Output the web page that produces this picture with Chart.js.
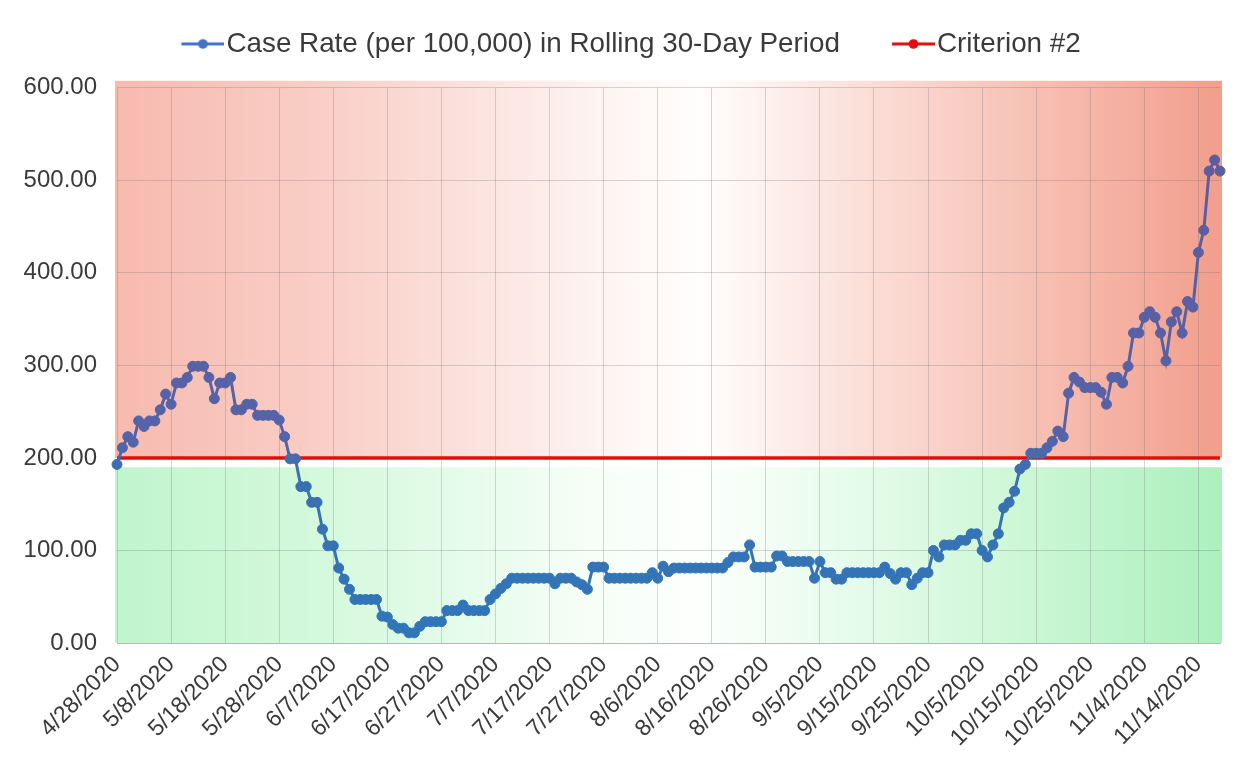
<!DOCTYPE html>
<html>
<head>
<meta charset="utf-8">
<title>Case Rate - Rolling 30-Day Period</title>
<script src="https://cdn.jsdelivr.net/npm/chart.js@4.4.1/dist/chart.umd.min.js"></script>
<style>
  html, body { margin: 0; padding: 0; background: #fff; }
  #wrap { width: 1252px; height: 766px; position: relative; }
</style>
</head>
<body>
<div id="wrap"><canvas id="rateChart"></canvas></div>
<script>
// ===== Data =====
const seriesName = 'Case Rate (per 100,000) in Rolling 30-Day Period';
const criterionName = 'Criterion #2';

// one value per day, starting 4/28/2020
const caseRate = [
  193, 211, 223, 217, 240, 234, 240, 240, 252, 269,
  258, 281, 281, 287, 299, 299, 299, 287, 264, 281,
  281, 287, 252, 252, 258, 258, 246, 246, 246, 246,
  241, 223, 199, 199, 169, 169, 152, 152, 123, 105,
  105, 81, 69, 58, 47, 47, 47, 47, 47, 29,
  28, 20, 16, 16, 11, 11, 18, 23, 23, 23,
  23, 35, 35, 35, 41, 35, 35, 35, 35, 47,
  53, 59, 64, 70, 70, 70, 70, 70, 70, 70,
  70, 64, 70, 70, 70, 66, 63, 58, 82, 82,
  82, 70, 70, 70, 70, 70, 70, 70, 70, 76,
  70, 83, 77, 81, 81, 81, 81, 81, 81, 81,
  81, 81, 81, 87, 93, 93, 93, 106, 82, 82,
  82, 82, 94, 94, 88, 88, 88, 88, 88, 70,
  88, 76, 76, 69, 69, 76, 76, 76, 76, 76,
  76, 76, 82, 75, 69, 76, 76, 63, 70, 76,
  76, 100, 93, 106, 106, 106, 111, 111, 118, 118,
  100, 93, 106, 118, 146, 152, 164, 188, 193, 205,
  205, 205, 211, 218, 229, 223, 270, 287, 282, 276,
  276, 276, 271, 258, 287, 287, 281, 299, 335, 335,
  352, 358, 352, 335, 305, 347, 358, 335, 369, 363,
  422, 446, 510, 522, 510
];

const criterionValue = 200;   // red threshold line
const greenLimit = 190;       // top of the green zone

const tickLabels = [
  '4/28/2020', '5/8/2020', '5/18/2020', '5/28/2020', '6/7/2020', '6/17/2020',
  '6/27/2020', '7/7/2020', '7/17/2020', '7/27/2020', '8/6/2020', '8/16/2020',
  '8/26/2020', '9/5/2020', '9/15/2020', '9/25/2020', '10/5/2020', '10/15/2020',
  '10/25/2020', '11/4/2020', '11/14/2020'
];
const yTicks = { min: 0, max: 600, step: 100 };

// daily category labels
const dates = caseRate.map((_, i) => {
  const d = new Date(2020, 3, 28 + i);
  return `${d.getMonth() + 1}/${d.getDate()}/${d.getFullYear()}`;
});

// ===== Styling =====
const FONT = "'Liberation Sans', Arial, sans-serif";
const TEXT_COLOR = '#3a3a3a';
const GRID_COLOR = 'rgba(110,110,110,0.28)';
const BLUE = '#4472c4';
const RED = 'rgb(228,12,12)';

function lineGradient(context) {
  const chart = context.chart;
  const { ctx, chartArea, scales } = chart;
  if (!chartArea) return BLUE;
  const y0 = scales.y.getPixelForValue(0);
  const y1 = scales.y.getPixelForValue(600);
  const g = ctx.createLinearGradient(0, y0, 0, y1);
  g.addColorStop(0, '#2e77b9');
  g.addColorStop(0.3, '#3b70b2');
  g.addColorStop(0.37, '#5563a8');
  g.addColorStop(1, '#5f5a9e');
  return g;
}

// legend icon: short line with a dot, kept in the right part of the image
function legendIcon(color) {
  const c = document.createElement('canvas');
  c.width = 77;
  c.height = 14;
  const g = c.getContext('2d');
  g.strokeStyle = color;
  g.lineWidth = 3;
  g.beginPath();
  g.moveTo(34, 7);
  g.lineTo(77, 7);
  g.stroke();
  g.fillStyle = color;
  g.beginPath();
  g.arc(55.5, 7, 4.8, 0, Math.PI * 2);
  g.fill();
  return c;
}

// red / green zones behind the plot
const zoneBackground = {
  id: 'zoneBackground',
  beforeDraw(chart) {
    const { ctx, chartArea: a, scales: { y } } = chart;
    const left = a.left - 2, right = a.right + 2;

    const red = ctx.createLinearGradient(left, 0, right, 0);
    red.addColorStop(0, 'rgb(247,186,175)');
    red.addColorStop(0.2, 'rgb(249,208,200)');
    red.addColorStop(0.44, 'rgb(254,244,242)');
    red.addColorStop(0.53, 'rgb(255,254,253)');
    red.addColorStop(0.64, 'rgb(252,230,225)');
    red.addColorStop(0.82, 'rgb(247,194,182)');
    red.addColorStop(1, 'rgb(242,158,140)');

    const green = ctx.createLinearGradient(left, 0, right, 0);
    green.addColorStop(0, 'rgb(192,245,205)');
    green.addColorStop(0.2, 'rgb(214,249,222)');
    green.addColorStop(0.44, 'rgb(247,254,248)');
    green.addColorStop(0.53, 'rgb(253,255,253)');
    green.addColorStop(0.64, 'rgb(234,252,238)');
    green.addColorStop(0.82, 'rgb(204,247,214)');
    green.addColorStop(1, 'rgb(172,240,188)');

    ctx.save();
    const redTop = a.top - 7;
    const redBottom = y.getPixelForValue(criterionValue);
    ctx.fillStyle = red;
    ctx.fillRect(left, redTop, right - left, redBottom - redTop);
    const greenTop = y.getPixelForValue(greenLimit);
    const greenBottom = y.getPixelForValue(0);
    ctx.fillStyle = green;
    ctx.fillRect(left, greenTop, right - left, greenBottom - greenTop);
    ctx.restore();
  }
};

// extra room between legend and plot
const legendGap = {
  id: 'legendGap',
  afterInit(chart) {
    if (!chart.legend) return;
    const fit = chart.legend.fit;
    chart.legend.fit = function () {
      fit.call(this);
      this.height += 20;
    };
  }
};

const ctx = document.getElementById('rateChart').getContext('2d');

const rateChart = new Chart(ctx, {
  type: 'line',
  data: {
    labels: dates,
    datasets: [
      {
        label: seriesName,
        data: caseRate,
        borderColor: lineGradient,
        backgroundColor: lineGradient,
        pointBackgroundColor: lineGradient,
        pointBorderColor: lineGradient,
        pointRadius: 5,
        pointBorderWidth: 1,
        borderWidth: 3,
        tension: 0,
        fill: false,
        clip: false
      },
      {
        label: criterionName,
        data: [
          { x: dates[0], y: criterionValue },
          { x: dates[dates.length - 1], y: criterionValue }
        ],
        borderColor: RED,
        backgroundColor: RED,
        borderWidth: 3.5,
        pointRadius: 0,
        fill: false
      }
    ]
  },
  options: {
    responsive: true,
    maintainAspectRatio: false,
    animation: false,
    layout: { padding: { top: 0, left: 20, right: 32, bottom: 0 } },
    plugins: {
      tooltip: { enabled: false },
      legend: {
        position: 'top',
        labels: {
          usePointStyle: true,
          pointStyleWidth: 53.25,
          padding: 30,
          color: TEXT_COLOR,
          font: { family: FONT, size: 27.8 },
          generateLabels(chart) {
            return chart.data.datasets.map((ds, i) => ({
              text: ds.label,
              fillStyle: i === 0 ? BLUE : RED,
              strokeStyle: i === 0 ? BLUE : RED,
              lineWidth: 0,
              pointStyle: legendIcon(i === 0 ? BLUE : RED),
              fontColor: TEXT_COLOR,
              datasetIndex: i
            }));
          }
        }
      }
    },
    scales: {
      x: {
        type: 'category',
        offset: false,
        grid: { color: GRID_COLOR, drawTicks: false },
        border: { color: '#b8b8b8' },
        ticks: {
          autoSkip: false,
          minRotation: 45,
          maxRotation: 45,
          padding: 8,
          color: TEXT_COLOR,
          font: { family: FONT, size: 23 },
          callback(value) {
            const label = this.getLabelForValue(value);
            return tickLabels.includes(label) ? label : null;
          }
        },
        afterFit(scale) { scale.height = 123; }
      },
      y: {
        min: yTicks.min,
        max: yTicks.max,
        grid: { color: GRID_COLOR, drawTicks: false },
        border: { display: false },
        ticks: {
          stepSize: yTicks.step,
          padding: 20,
          color: TEXT_COLOR,
          font: { family: FONT, size: 24 },
          callback: v => Number(v).toFixed(2)
        },
        afterFit(scale) { scale.width = 97; }
      }
    }
  },
  plugins: [zoneBackground, legendGap]
});
</script>
</body>
</html>
